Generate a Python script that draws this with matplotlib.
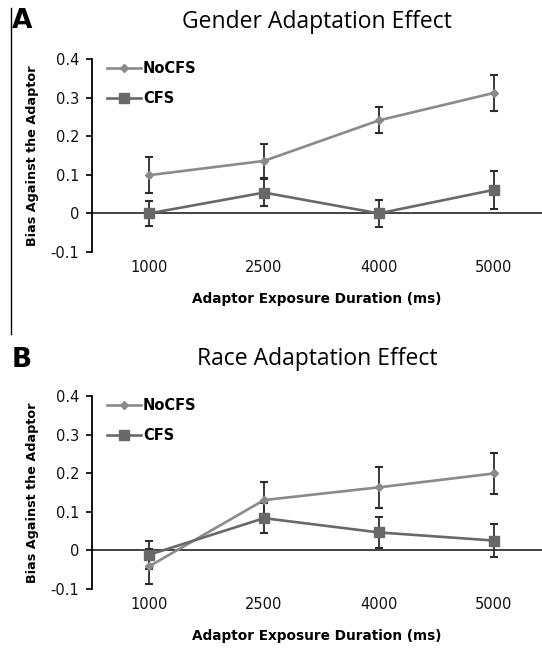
import numpy as np
import matplotlib
matplotlib.use("Agg")
import matplotlib.pyplot as plt
from matplotlib.lines import Line2D

durations = ["1000", "2500", "4000", "5000"]

# Gender adaptation effect (panel A)
gender_nocfs = [0.099, 0.136, 0.241, 0.312]
gender_nocfs_err = [0.047, 0.044, 0.034, 0.046]
gender_cfs = [0.0, 0.054, 0.0, 0.061]
gender_cfs_err = [0.032, 0.036, 0.035, 0.049]

# Race adaptation effect (panel B)
race_nocfs = [-0.042, 0.130, 0.163, 0.199]
race_nocfs_err = [0.046, 0.046, 0.054, 0.053]
race_cfs = [-0.012, 0.083, 0.046, 0.025]
race_cfs_err = [0.037, 0.039, 0.040, 0.044]

W, H = 542, 649
fig = plt.figure(figsize=(W / 100, H / 100), dpi=100)
plt.rcParams['font.family'] = ['DejaVu Sans']

NOCFS_COLOR = '#8a8a8a'
CFS_COLOR = '#686868'


def draw_panel(ax, nocfs, nocfs_err, cfs, cfs_err, title):
    x = np.arange(len(durations))
    ax.axhline(0, color='#222222', linewidth=1.2, zorder=1)
    ax.errorbar(x, nocfs, yerr=nocfs_err, color=NOCFS_COLOR, marker='D',
                markersize=4.5, linewidth=1.9, ecolor='#2b2b2b', elinewidth=1.3,
                capsize=2.7, capthick=1.5, zorder=3)
    ax.errorbar(x, cfs, yerr=cfs_err, color=CFS_COLOR, marker='s',
                markersize=7.5, linewidth=1.9, ecolor='#2b2b2b', elinewidth=1.3,
                capsize=2.7, capthick=1.5, zorder=3)
    ax.set_xlim(-0.5, 3.42)
    ax.set_ylim(-0.1, 0.4)
    ax.set_yticks([-0.1, 0, 0.1, 0.2, 0.3, 0.4])
    ax.set_yticklabels(['-0.1', '0', '0.1', '0.2', '0.3', '0.4'])
    ax.set_xticks(x)
    ax.set_xticklabels(durations)
    for s in ['top', 'right', 'bottom']:
        ax.spines[s].set_visible(False)
    ax.spines['left'].set_linewidth(1.3)
    ax.tick_params(axis='y', length=4, width=1.3, pad=5, labelsize=10.5,
                   colors='#111111')
    ax.tick_params(axis='x', length=0, pad=6, labelsize=10.5,
                   colors='#111111')
    ax.set_xlabel('Adaptor Exposure Duration (ms)', fontsize=9.8,
                  fontweight='bold', labelpad=12)
    ax.set_ylabel('Bias Against the Adaptor', fontsize=9.2,
                  fontweight='bold', labelpad=8)
    ax.set_title(title, fontsize=16.5, family='Open Sans', pad=22.5)
    handles = [
        Line2D([], [], color=NOCFS_COLOR, marker='D', markersize=4.5,
               linewidth=1.9),
        Line2D([], [], color=CFS_COLOR, marker='s', markersize=7.5,
               linewidth=1.9),
    ]
    leg = ax.legend(handles, ['NoCFS', 'CFS'], loc='upper left',
                    frameon=False, fontsize=10.5, handlelength=2.3,
                    labelspacing=1.05, bbox_to_anchor=(0.015, 1.035),
                    borderaxespad=0.2, handletextpad=0.15)
    for t in leg.get_texts():
        t.set_fontweight('bold')


ax1 = fig.add_axes([91.7 / W, 1 - 252 / H, 1 - 91.7 / W, 193 / H])
draw_panel(ax1, gender_nocfs, gender_nocfs_err, gender_cfs, gender_cfs_err,
           'Gender Adaptation Effect')

ax2 = fig.add_axes([91.7 / W, 1 - 588.7 / H, 1 - 91.7 / W, 192.7 / H])
draw_panel(ax2, race_nocfs, race_nocfs_err, race_cfs, race_cfs_err,
           'Race Adaptation Effect')

fig.text(12 / W, 1 - 21 / H, 'A', fontsize=19, fontweight='bold',
         va='center', ha='left')
fig.text(12 / W, 1 - 360 / H, 'B', fontsize=19, fontweight='bold',
         va='center', ha='left')
fig.add_artist(Line2D([11 / W, 11 / W], [1 - 8 / H, 1 - 334 / H],
                      color='black', linewidth=1.0))

fig.savefig('out.png', dpi=100)
